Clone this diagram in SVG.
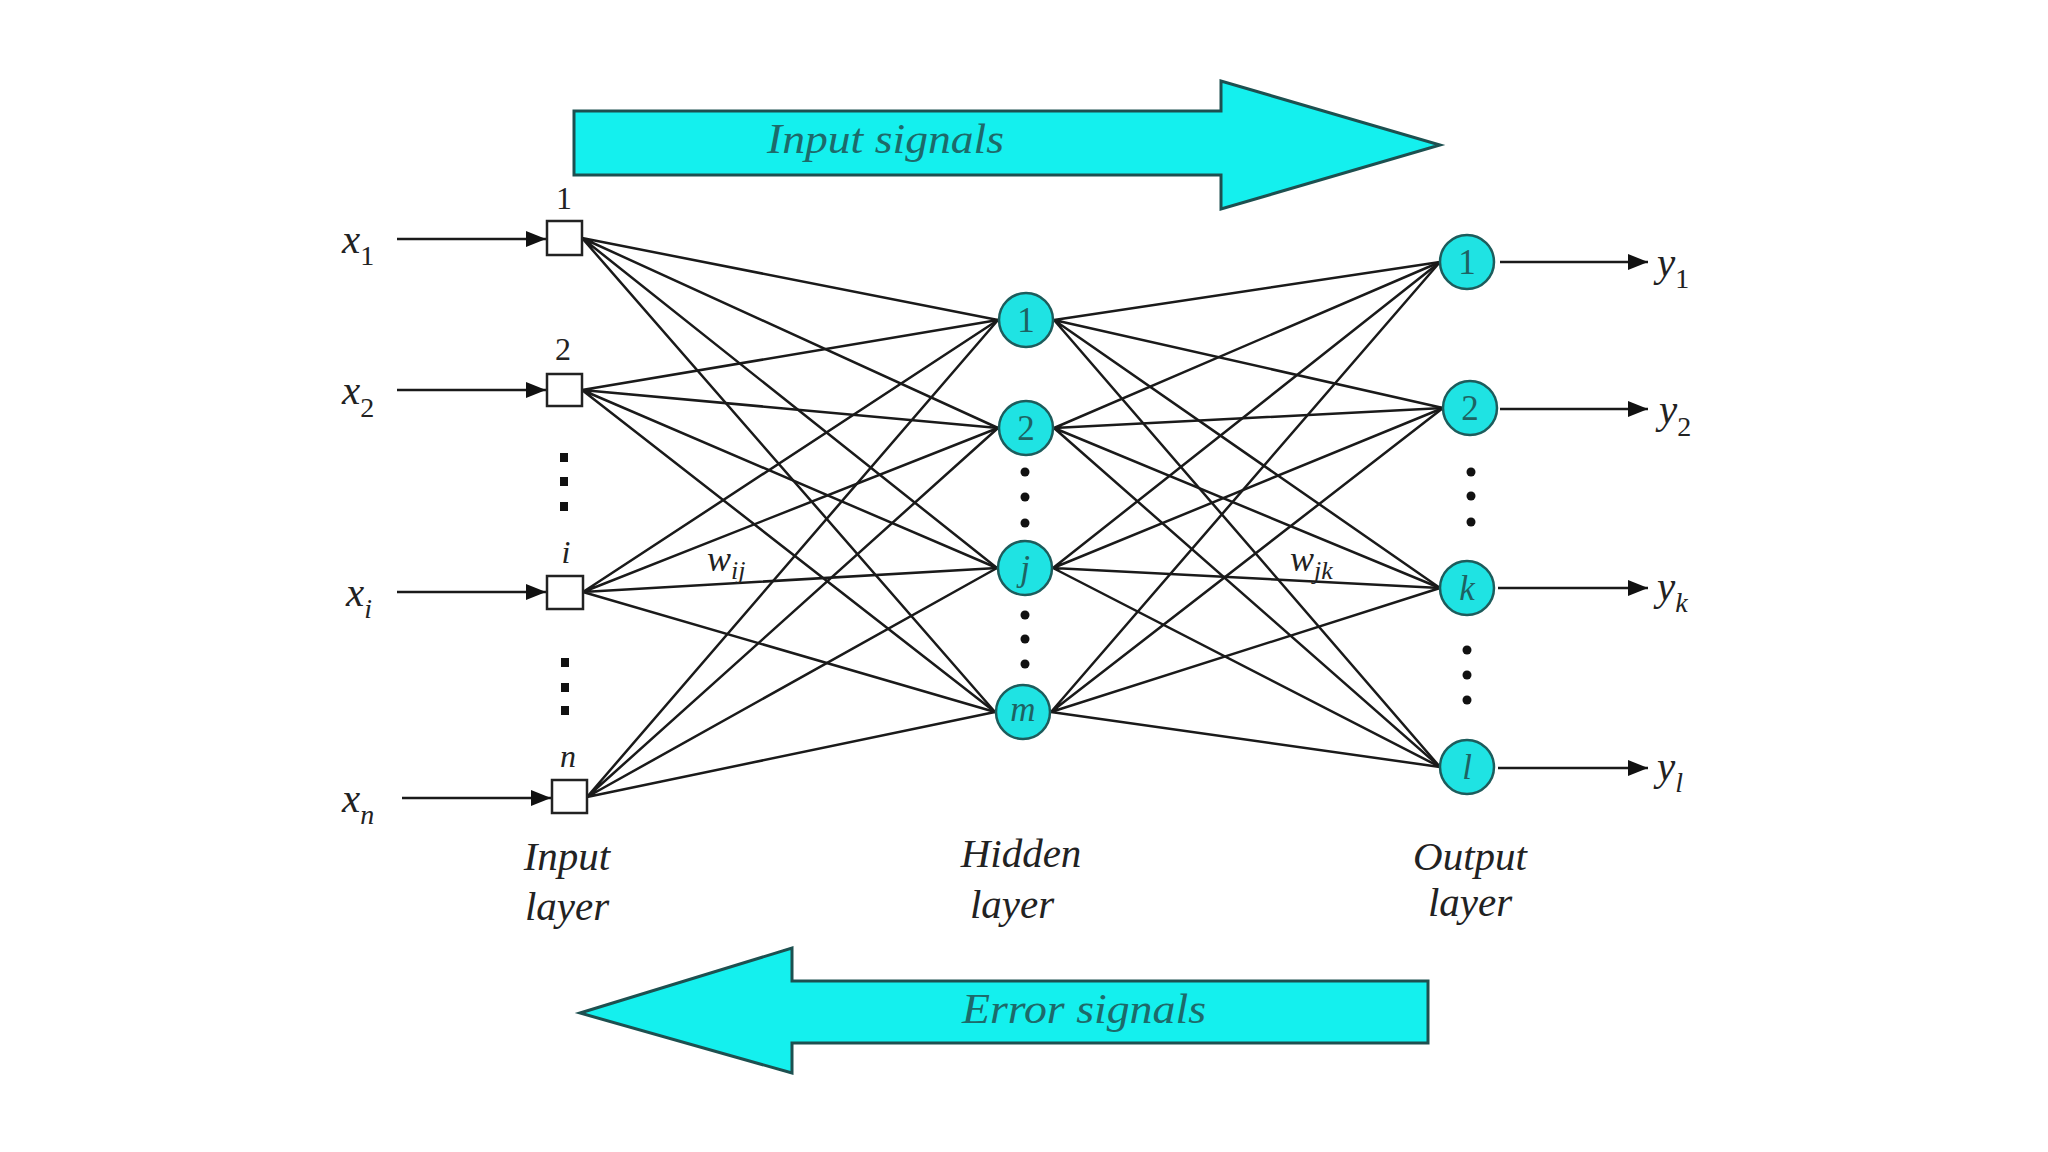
<svg xmlns="http://www.w3.org/2000/svg" width="2048" height="1152" viewBox="0 0 2048 1152">
<style>
.t{font-family:"Liberation Serif","Times New Roman",serif;fill:#222}
.it{font-style:italic}
.big{font-family:"Liberation Serif","Times New Roman",serif;font-style:italic;font-size:42px;fill:#1d6a6a}
.node{fill:#1fe3e3;stroke:#1d5c5c;stroke-width:2.5}
.sq{fill:#fff;stroke:#222;stroke-width:2.5}
.nl{font-family:"Liberation Serif","Times New Roman",serif;font-size:35px;fill:#1d6363;text-anchor:middle}
.sl{font-family:"Liberation Serif","Times New Roman",serif;font-size:32px;fill:#222;text-anchor:middle}
.lab{font-family:"Liberation Serif","Times New Roman",serif;font-style:italic;font-size:41px;fill:#222;text-anchor:middle}
.w{stroke:#1a1a1a;stroke-width:2.5;fill:none}
.io{stroke:#1a1a1a;stroke-width:2.6;fill:none;marker-end:url(#ah)}
.sig{fill:#14f0ee;stroke:#1d5050;stroke-width:3}
.dot{fill:#111}
</style>
<defs>
<marker id="ah" viewBox="0 0 20 16" refX="20" refY="8" markerWidth="20" markerHeight="16" markerUnits="userSpaceOnUse" orient="auto">
<path d="M0,0 L20,8 L0,16 Z" fill="#111"/>
</marker>
</defs>
<rect width="2048" height="1152" fill="#fff"/>

<g id="input-signals">
<polygon class="sig" points="574,111 1221,111 1221,81 1440,145 1221,209 1221,175 574,175"/>
<text class="big" x="767" y="153" textLength="237" lengthAdjust="spacingAndGlyphs">Input signals</text>
</g>
<g id="error-signals">
<polygon class="sig" points="1428,981 792,981 792,948 580,1013 792,1073 792,1043 1428,1043"/>
<text class="big" x="962" y="1023" textLength="244" lengthAdjust="spacingAndGlyphs">Error signals</text>
</g>

<g id="connectors">
<path class="w" d="M582,238 L998,320 M582,238 L998,428 M582,238 L997,568 M582,238 L995,712"/>
<path class="w" d="M582,390 L998,320 M582,390 L998,428 M582,390 L997,568 M582,390 L995,712"/>
<path class="w" d="M583,592 L998,320 M583,592 L998,428 M583,592 L997,568 M583,592 L995,712"/>
<path class="w" d="M587,797 L998,320 M587,797 L998,428 M587,797 L997,568 M587,797 L995,712"/>
<path class="w" d="M1054,320 L1440,262 M1054,320 L1443,408 M1054,320 L1440,588 M1054,320 L1440,767"/>
<path class="w" d="M1054,428 L1440,262 M1054,428 L1443,408 M1054,428 L1440,588 M1054,428 L1440,767"/>
<path class="w" d="M1053,568 L1440,262 M1053,568 L1443,408 M1053,568 L1440,588 M1053,568 L1440,767"/>
<path class="w" d="M1051,712 L1440,262 M1051,712 L1443,408 M1051,712 L1440,588 M1051,712 L1440,767"/>
<path class="io" d="M397,239 L546,239"/>
<path class="io" d="M397,390 L546,390"/>
<path class="io" d="M397,592 L546,592"/>
<path class="io" d="M402,798 L551,798"/>
<path class="io" d="M1500,262 L1648,262"/>
<path class="io" d="M1500,409 L1648,409"/>
<path class="io" d="M1498,588 L1648,588"/>
<path class="io" d="M1498,768 L1648,768"/>
</g>

<g id="input-1"><rect class="sq" x="547" y="221" width="35" height="34"/><text class="sl" x="564" y="209">1</text></g>
<g id="input-2"><rect class="sq" x="547" y="374" width="35" height="32"/><text class="sl" x="563" y="360">2</text></g>
<g id="input-i"><rect class="sq" x="547" y="576" width="36" height="33"/><text class="sl it" x="566" y="563">i</text></g>
<g id="input-n"><rect class="sq" x="552" y="780" width="35" height="33"/><text class="sl it" x="568" y="767">n</text></g>

<g id="input-dots">
<rect class="dot" x="560" y="453" width="8" height="9"/>
<rect class="dot" x="560" y="477" width="8" height="9"/>
<rect class="dot" x="560" y="502" width="8" height="9"/>
<rect class="dot" x="561" y="658" width="8" height="9"/>
<rect class="dot" x="561" y="683" width="8" height="9"/>
<rect class="dot" x="561" y="706" width="8" height="9"/>
</g>

<g id="hidden-1"><circle class="node" cx="1026" cy="320" r="27"/><text class="nl" x="1026" y="332">1</text></g>
<g id="hidden-2"><circle class="node" cx="1026" cy="428" r="27"/><text class="nl" x="1026" y="440">2</text></g>
<g id="hidden-j"><circle class="node" cx="1025" cy="568" r="27"/><text class="nl it" x="1025" y="580">j</text></g>
<g id="hidden-m"><circle class="node" cx="1023" cy="712" r="27"/><text class="nl it" x="1023" y="721">m</text></g>
<g id="hidden-dots">
<circle class="dot" cx="1025" cy="472" r="4.5"/>
<circle class="dot" cx="1025" cy="497" r="4.5"/>
<circle class="dot" cx="1025" cy="523" r="4.5"/>
<circle class="dot" cx="1025" cy="615" r="4.5"/>
<circle class="dot" cx="1025" cy="639" r="4.5"/>
<circle class="dot" cx="1025" cy="664" r="4.5"/>
</g>

<g id="output-1"><circle class="node" cx="1467" cy="262" r="27"/><text class="nl" x="1467" y="274">1</text></g>
<g id="output-2"><circle class="node" cx="1470" cy="408" r="27"/><text class="nl" x="1470" y="420">2</text></g>
<g id="output-k"><circle class="node" cx="1467" cy="588" r="27"/><text class="nl it" x="1467" y="600">k</text></g>
<g id="output-l"><circle class="node" cx="1467" cy="767" r="27"/><text class="nl it" x="1467" y="779">l</text></g>
<g id="output-dots">
<circle class="dot" cx="1471" cy="472" r="4.5"/>
<circle class="dot" cx="1471" cy="496" r="4.5"/>
<circle class="dot" cx="1471" cy="522" r="4.5"/>
<circle class="dot" cx="1467" cy="650" r="4.5"/>
<circle class="dot" cx="1467" cy="675" r="4.5"/>
<circle class="dot" cx="1467" cy="700" r="4.5"/>
</g>

<g id="x-labels" class="t it" font-size="41">
<text x="342" y="253">x<tspan font-size="28" font-style="normal" dy="12">1</tspan></text>
<text x="342" y="404">x<tspan font-size="28" font-style="normal" dy="13">2</tspan></text>
<text x="346" y="606">x<tspan font-size="28" dy="12">i</tspan></text>
<text x="342" y="812">x<tspan font-size="28" dy="12">n</tspan></text>
</g>
<g id="y-labels" class="t it" font-size="41">
<text x="1657" y="276">y<tspan font-size="28" font-style="normal" dy="12">1</tspan></text>
<text x="1659" y="423">y<tspan font-size="28" font-style="normal" dy="13">2</tspan></text>
<text x="1657" y="600">y<tspan font-size="28" dy="12">k</tspan></text>
<text x="1657" y="780">y<tspan font-size="28" dy="12">l</tspan></text>
</g>
<g id="weights" class="t it" font-size="36">
<text x="707" y="571">w<tspan font-size="26" dy="8">ij</tspan></text>
<text x="1290" y="571">w<tspan font-size="26" dy="8">jk</tspan></text>
</g>

<g id="layer-labels">
<text class="lab" x="567" y="870">Input</text>
<text class="lab" x="567" y="920">layer</text>
<text class="lab" x="1021" y="867">Hidden</text>
<text class="lab" x="1012" y="918">layer</text>
<text class="lab" x="1470" y="870">Output</text>
<text class="lab" x="1470" y="916">layer</text>
</g>
</svg>
